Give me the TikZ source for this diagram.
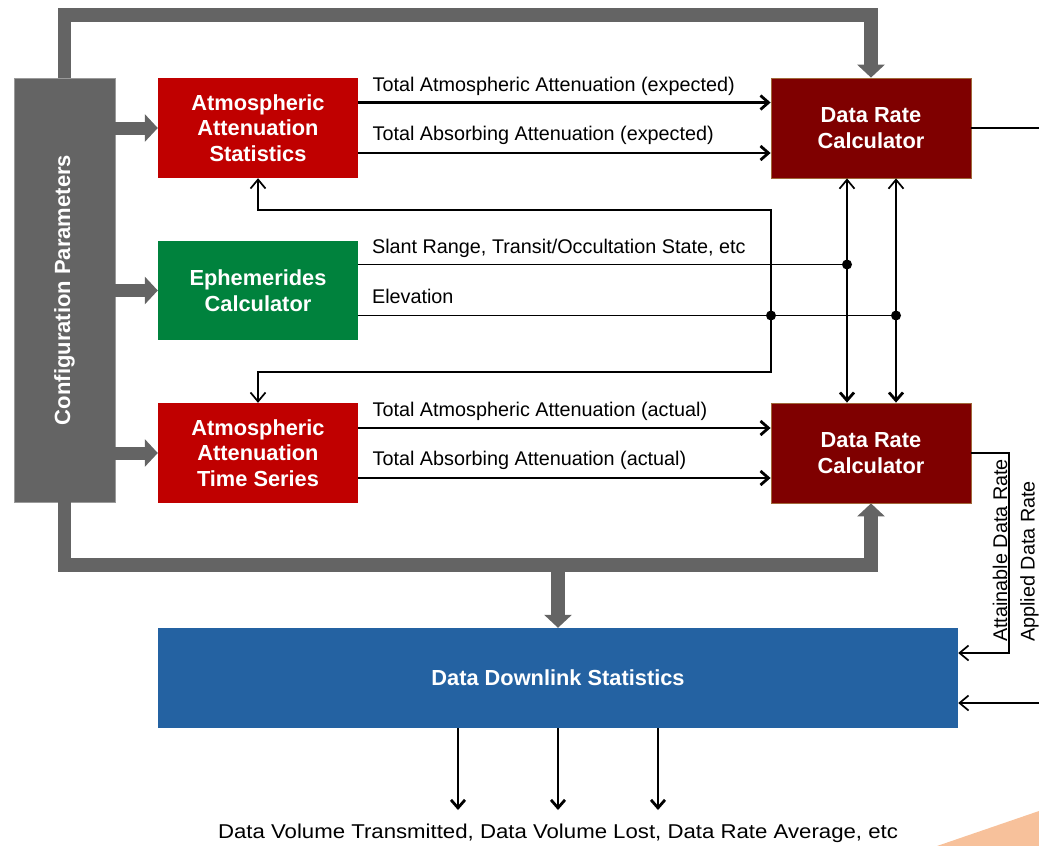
\documentclass[tikz,border=0pt]{standalone}
\usepackage{fontspec}
\setmainfont{Liberation Sans}
\usetikzlibrary{arrows.meta,calc}
\definecolor{cfggray}{HTML}{646464}
\definecolor{cfgedge}{HTML}{9A9A9A}
\definecolor{boxred}{HTML}{C00000}
\definecolor{boxdark}{HTML}{7F0000}
\definecolor{darkedge}{HTML}{A0683A}
\definecolor{boxgreen}{HTML}{00823D}
\definecolor{boxblue}{HTML}{2462A2}
\definecolor{peach}{HTML}{F7C19B}
\begin{document}
\begin{tikzpicture}[x=1pt,y=-1pt,
  box/.style={text=white, font=\fontsize{21.8}{25.5}\selectfont\bfseries, align=center,
    inner sep=0pt, minimum width=200pt, minimum height=100pt},
  lbl/.style={font=\fontsize{19.8}{22}\selectfont, inner sep=0pt},
  bus/.style={draw=cfggray, line width=13.5pt, miter limit=10, line join=miter},
  busarrow/.style={bus, -{Triangle[length=13pt,width=27pt]}},
  thinline/.style={draw=black, line width=1.7pt},
  thickline/.style={draw=black, line width=2.8pt},
  thinarrow/.style={thinline, -{Straight Barb[length=9pt,width=15pt]}},
  thickarrow/.style={thickline, -{Straight Barb[length=8pt,width=14pt]}},
  dot/.style={fill=black}
]
\useasboundingbox (0,0) rectangle (1039,846);

% decorative corner
\fill[peach] (937,846) -- (1039,811) -- (1039,846) -- cycle;

% boxes
\node[box, fill=cfggray, draw=cfgedge, line width=0.8pt, minimum width=101pt, minimum height=424pt] (cfg) at (64.5,290) {};
\node[text=white, font=\fontsize{22}{25.5}\selectfont\bfseries, rotate=90, inner sep=0pt] (cfgtext) at (cfg.center) {Configuration Parameters};
\node[box, fill=boxred] (aas) at (258,128) {Atmospheric\\Attenuation\\Statistics};
\node[box, fill=boxgreen, minimum height=99pt] (eph) at (258,290.5) {Ephemerides\\Calculator};
\node[box, fill=boxred] (aats) at (258,453) {Atmospheric\\Attenuation\\Time Series};
\node[box, fill=boxdark, draw=darkedge, line width=0.8pt] (drc1) at (871,128) {Data Rate\\Calculator};
\node[box, fill=boxdark, draw=darkedge, line width=0.8pt] (drc2) at (871,453) {Data Rate\\Calculator};
\node[box, fill=boxblue, minimum width=800pt] (dds) at (558,678) {Data Downlink Statistics};

% gray configuration buses
\coordinate (topbus) at (871,15);
\coordinate (botbus) at (871,565);
\draw[busarrow] (cfg.north) |- (topbus) -- (drc1.north);
\draw[busarrow] (cfg.south) |- (botbus) -- (drc2.south);
\draw[busarrow] (dds.north |- botbus) -- (dds.north);
\draw[busarrow, line width=13pt] (cfg.east |- aas.west) -- (aas.west);
\draw[busarrow, line width=13pt] (cfg.east |- eph.west) -- (eph.west);
\draw[busarrow, line width=13pt] (cfg.east |- aats.west) -- (aats.west);

% attenuation signals
\draw[thickarrow] (aas.east |- 0,102.5) -- (drc1.west |- 0,102.5)
  node[lbl, pos=0, anchor=base west, xshift=13pt, yshift=11.5pt] (l1) {Total Atmospheric Attenuation (expected)};
\draw[thickarrow] (aas.east |- 0,153) -- (drc1.west |- 0,153)
  node[lbl, pos=0, anchor=base west, xshift=13pt, yshift=12.5pt] (l2) {Total Absorbing Attenuation (expected)};
\draw[thickarrow] (aats.east |- 0,428) -- (drc2.west |- 0,428)
  node[lbl, pos=0, anchor=base west, xshift=13pt, yshift=11.5pt] (l3) {Total Atmospheric Attenuation (actual)};
\draw[thickarrow] (aats.east |- 0,478) -- (drc2.west |- 0,478)
  node[lbl, pos=0, anchor=base west, xshift=13pt, yshift=12.5pt] (l4) {Total Absorbing Attenuation (actual)};

% ephemerides signals
\coordinate (j1) at (847,264.5);
\coordinate (j2) at (896,315.5);
\coordinate (j3) at (771,315.5);
\coordinate (fbtop) at (771,210);
\coordinate (fbbot) at (771,372);
\draw[thinline] (eph.east |- j1) -- (j1)
  node[lbl, pos=0, anchor=base west, xshift=13pt, yshift=11.5pt] (l5) {Slant Range, Transit/Occultation State, etc};
\draw[thinline] (eph.east |- j2) -- (j2)
  node[lbl, pos=0, anchor=base west, xshift=13pt, yshift=12pt] (l6) {Elevation};
\draw[thinarrow] (j1) -- (j1 |- drc1.south);
\draw[thinarrow] (j2) -- (j2 |- drc1.south);
\draw[thickarrow] (j1) -- (j1 |- drc2.north);
\draw[thickarrow] (j2) -- (j2 |- drc2.north);
\draw[thinarrow] (j3) -- (fbtop) -| (aas.south);
\draw[thinarrow] (j3) -- (fbbot) -| (aats.north);
\fill[dot] (j1) circle (5pt);
\fill[dot] (j2) circle (5pt);
\fill[dot] (j3) circle (5pt);

% data rate outputs
\coordinate (outR) at (1039,128);
\coordinate (attcorner) at (1009,453);
\coordinate (appin) at (1039,703);
\draw[thinline] (drc1.east) -- (outR);
\draw[thinarrow] (drc2.east) -- (attcorner) |- (dds.east |- 0,653);
\node[lbl, rotate=90, anchor=base west] (l7) at (1007,642) {Attainable Data Rate};
\draw[thinarrow] (appin) -- (dds.east |- appin);
\node[lbl, rotate=90, anchor=base west] (l8) at (1034.5,642) {Applied Data Rate};

% statistics outputs
\node[lbl, font=\fontsize{20}{24}\selectfont, anchor=base, xscale=1.11] (outtext) at (558,838) {Data Volume Transmitted, Data Volume Lost, Data Rate Average, etc};
\coordinate (o1) at (458,810);
\coordinate (o2) at (558,810);
\coordinate (o3) at (658,810);
\draw[thickarrow] (dds.south -| o1) -- (o1);
\draw[thickarrow] (dds.south -| o2) -- (o2);
\draw[thickarrow] (dds.south -| o3) -- (o3);
\end{tikzpicture}
\end{document}
